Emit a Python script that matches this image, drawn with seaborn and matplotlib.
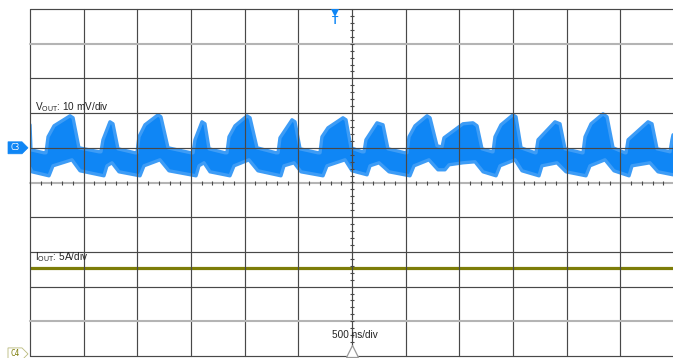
import numpy as np
import pandas as pd
import matplotlib
matplotlib.use("Agg")
import matplotlib.pyplot as plt
from matplotlib.patches import Polygon
import seaborn as sns

# ---------------- data ----------------
# time axis: 500 ns/div, 12 divisions, trigger at 0 us
TIME_DIV_US = 0.5
N_HDIV = 12
N_VDIV = 10

# VOUT (channel C3): 10 mV/div, ground marker at +1 div
VOUT_MV_PER_DIV = 10.0
C3_OFFSET_DIV = 1.0
# upper envelope of the persistence band (time in us, value in mV)
VOUT_UP_T = [-3.000, -2.991, -2.870,
             -2.851, -2.832, -2.776, -2.627, -2.599, -2.544,
             -2.357,
             -2.339, -2.320, -2.255, -2.227, -2.180,
             -2.022,
             -2.003, -1.985, -1.929, -1.807, -1.780, -1.714,
             -1.500,
             -1.481, -1.463, -1.398, -1.370, -1.332,
             -1.183,
             -1.165, -1.146, -1.090, -0.978, -0.950, -0.885,
             -0.708,
             -0.689, -0.671, -0.559, -0.531, -0.484,
             -0.317,
             -0.298, -0.280, -0.224, -0.084, -0.056, -0.009,
             0.093,
             0.112, 0.130, 0.233, 0.289, 0.335,
             0.494,
             0.512, 0.531, 0.587, 0.699, 0.727, 0.792,
             0.829,
             0.839, 0.857, 1.034, 1.127, 1.165, 1.211,
             1.304,
             1.314, 1.332, 1.388, 1.500, 1.528, 1.575,
             1.705,
             1.714, 1.733, 1.891, 1.938, 1.985,
             2.143,
             2.152, 2.171, 2.227, 2.339, 2.376, 2.432,
             2.544,
             2.553, 2.572, 2.758, 2.795, 2.842,
             2.963, 2.981, 2.991]
VOUT_UP_MV = [6.63, -0.58, -1.44,
              -1.44, 3.17, 6.34, 9.22, 8.65, 0.00,
              -1.15,
              -1.15, 2.31, 7.49, 6.92, -0.29,
              -1.44,
              -1.44, 3.17, 6.63, 9.51, 8.93, 0.00,
              -1.44,
              -1.44, 2.31, 7.49, 6.92, -0.29,
              -1.44,
              -1.44, 3.17, 6.34, 9.22, 8.65, 0.00,
              -1.44,
              -1.44, 2.88, 8.07, 7.49, -0.29,
              -1.44,
              -1.44, 3.17, 5.76, 8.65, 8.07, 0.00,
              -1.15,
              -1.15, 2.31, 7.20, 6.63, -0.29,
              -1.44,
              -1.44, 3.17, 6.34, 9.22, 8.65, 0.58,
              0.29,
              0.29, 2.88, 6.92, 7.20, 6.34, -0.29,
              -1.15,
              -1.15, 3.17, 6.63, 9.51, 8.93, 0.00,
              -1.44,
              -1.44, 2.31, 7.49, 6.92, -0.29,
              -1.44,
              -1.44, 3.17, 6.92, 9.80, 8.93, 0.00,
              -1.44,
              -1.44, 2.31, 7.49, 6.92, -0.29,
              -1.15, 2.31, 3.75]
# lower envelope of the persistence band
VOUT_LO_T = [-3.000, -2.981, -2.823, -2.786, -2.609, -2.534, -2.311, -2.283,
             -2.236, -2.171, -1.975, -1.938, -1.789, -1.705, -1.453, -1.426,
             -1.379, -1.323, -1.137, -1.099, -0.960, -0.876, -0.662, -0.634,
             -0.540, -0.475, -0.270, -0.233, -0.065, 0.000, 0.140, 0.168,
             0.252, 0.345, 0.540, 0.578, 0.717, 0.801, 0.866, 0.904,
             1.034, 1.146, 1.221, 1.342, 1.379, 1.519, 1.584, 1.742,
             1.770, 1.910, 1.994, 2.180, 2.217, 2.357, 2.441, 2.581,
             2.609, 2.776, 2.851, 2.991]
VOUT_LO_MV = [-5.76, -6.92,
              -8.07, -5.19, -3.46, -6.63,
              -8.07, -5.19, -4.32, -6.92,
              -8.07, -5.19, -3.46, -6.63,
              -8.07, -5.19, -4.32, -6.92,
              -8.07, -5.19, -3.46, -6.63,
              -8.07, -5.19, -4.32, -6.92,
              -8.07, -5.19, -3.46, -6.63,
              -7.78, -5.19, -4.32, -6.92,
              -8.07, -5.19, -3.46, -6.34,
              -6.34, -4.90, -4.32, -4.03, -6.92,
              -8.07, -5.19, -3.46, -6.63,
              -8.07, -5.19, -4.32, -6.92,
              -8.07, -5.19, -3.46, -6.63,
              -8.07, -5.19, -4.32, -6.92,
              -7.78]

# IOUT (channel C4): 5 A/div, ground marker at -4.94 div, flat DC level
IOUT_A_PER_DIV = 5.0
C4_OFFSET_DIV = -4.94
IOUT_T = [-3.0, 3.0]
IOUT_A = [12.4, 12.4]

TRIG_T_US = -0.158
LABEL_VOUT = r"V$_{\mathrm{OUT}}$: 10 mV/div"
LABEL_IOUT = r"I$_{\mathrm{OUT}}$: 5A/div"
LABEL_TIME = "500 ns/div"

assert len(VOUT_UP_T) == len(VOUT_UP_MV)
assert len(VOUT_LO_T) == len(VOUT_LO_MV)

# ---------------- styling ----------------
sns.set_style("white")
plt.rcParams["font.family"] = ["Liberation Sans", "DejaVu Sans"]
plt.rcParams["mathtext.fontset"] = "custom"
plt.rcParams["mathtext.rm"] = "Liberation Sans"
plt.rcParams["mathtext.it"] = "Liberation Sans"

BLUE = "#0f86f5"
BLUE_EDGE = "#3d9cf6"
OLIVE = "#7d7d08"
DARK = "#484848"
LIGHT = "#b4b4b4"
TXT = "#222222"

W, H = 673, 358
fig = plt.figure(figsize=(W / 100, H / 100), dpi=100)
ax_left, ax_top, ax_right, ax_bot = 30, 9, 674, 356
ax = fig.add_axes([ax_left / W, (H - ax_bot) / H, (ax_right - ax_left) / W, (ax_bot - ax_top) / H])
xmin, xmax = -N_HDIV / 2 * TIME_DIV_US, N_HDIV / 2 * TIME_DIV_US
ymin, ymax = -N_VDIV / 2, N_VDIV / 2
ax.set_xlim(xmin, xmax)
ax.set_ylim(ymin, ymax)
ax.set_axis_off()

px_x = (xmax - xmin) / (ax_right - ax_left)  # data units per pixel
px_y = (ymax - ymin) / (ax_bot - ax_top)

# ---------------- VOUT persistence band ----------------
up_t = np.array(VOUT_UP_T)
up_d = C3_OFFSET_DIV + np.array(VOUT_UP_MV) / VOUT_MV_PER_DIV
lo_t = np.array(VOUT_LO_T)
lo_d = C3_OFFSET_DIV + np.array(VOUT_LO_MV) / VOUT_MV_PER_DIV
ax.fill(np.r_[up_t, lo_t[::-1]], np.r_[up_d, lo_d[::-1]], color=BLUE, lw=0, zorder=2)
df_up = pd.DataFrame({"t": up_t, "v": up_d})
df_lo = pd.DataFrame({"t": lo_t, "v": lo_d})
for df in (df_up, df_lo):
    sns.lineplot(data=df, x="t", y="v", sort=False, estimator=None, color=BLUE_EDGE,
                 lw=2.4, ax=ax, zorder=2, solid_joinstyle="round")

# ---------------- IOUT trace ----------------
df_i = pd.DataFrame({"t": IOUT_T, "v": C4_OFFSET_DIV + np.array(IOUT_A) / IOUT_A_PER_DIV})
sns.lineplot(data=df_i, x="t", y="v", color=OLIVE, lw=2.3, ax=ax, zorder=2)

# ---------------- graticule ----------------
for gx in np.arange(xmin, xmax + 1e-9, TIME_DIV_US):
    ax.axvline(gx, color=DARK, lw=0.85, zorder=3, clip_on=False)
for gy in np.arange(ymin, ymax + 1e-9, 1.0):
    if round(gy) in (4, 0, -4):
        ax.axhline(gy, color=LIGHT, lw=1.5, zorder=3, clip_on=False)
    else:
        ax.axhline(gy, color=DARK, lw=0.85, zorder=3, clip_on=False)
# minor ticks on the centre axes
mx = np.arange(xmin, xmax + 1e-9, TIME_DIV_US / 5)
ax.plot(mx, np.zeros_like(mx), ls="none", marker="|", ms=3.5, mew=0.8, color=DARK, zorder=4)
my = np.arange(ymin, ymax + 1e-9, 0.2)
ax.plot(np.zeros_like(my), my, ls="none", marker="_", ms=3.5, mew=0.8, color=DARK, zorder=4)

# ---------------- annotations ----------------
ax.text(xmin + 5 * px_x, 2.18, LABEL_VOUT, fontsize=7.2, color=TXT, va="center", ha="left", zorder=5)
ax.text(xmin + 5 * px_x, -2.15, LABEL_IOUT, fontsize=7.2, color=TXT, va="center", ha="left", zorder=5)
ax.text(0.03, -4.39, LABEL_TIME, fontsize=7.2, color=TXT, va="center", ha="center", zorder=5)

# trigger marker
ax.plot([TRIG_T_US], [ymax - 4 * px_y], marker="v", ms=6, color=BLUE, mew=0, clip_on=False, zorder=6)
ax.text(TRIG_T_US, ymax - 12 * px_y, "T", fontsize=7.5, color=BLUE, ha="center", va="center",
        fontweight="bold", zorder=6)
# time reference marker at bottom
ax.plot([0], [ymin + 5 * px_y], marker="^", ms=9, mfc="white", mec="#999999", mew=0.9,
        clip_on=False, zorder=6)

# C3 channel marker
cx0 = xmin - 22 * px_x
c3 = Polygon([(cx0, C3_OFFSET_DIV + 6 * px_y), (xmin - 8 * px_x, C3_OFFSET_DIV + 6 * px_y),
              (xmin - 2 * px_x, C3_OFFSET_DIV), (xmin - 8 * px_x, C3_OFFSET_DIV - 6 * px_y),
              (cx0, C3_OFFSET_DIV - 6 * px_y)], closed=True, fc=BLUE, ec=BLUE, lw=0.5,
             clip_on=False, zorder=6)
ax.add_patch(c3)
ax.text(xmin - 15 * px_x, C3_OFFSET_DIV, "C3", fontsize=5.5, color="white", ha="center",
        va="center", zorder=7, family=["DejaVu Sans Mono", "DejaVu Sans"])
# C4 channel marker
c4 = Polygon([(cx0, C4_OFFSET_DIV + 6 * px_y), (xmin - 8 * px_x, C4_OFFSET_DIV + 6 * px_y),
              (xmin - 2 * px_x, C4_OFFSET_DIV), (xmin - 8 * px_x, C4_OFFSET_DIV - 6 * px_y),
              (cx0, C4_OFFSET_DIV - 6 * px_y)], closed=True, fc="white", ec="#b9b97a", lw=0.6,
             clip_on=False, zorder=6)
ax.add_patch(c4)
ax.text(xmin - 15 * px_x, C4_OFFSET_DIV, "C4", fontsize=5.5, color=OLIVE, ha="center",
        va="center", zorder=7, family=["DejaVu Sans Mono", "DejaVu Sans"])

fig.savefig("out.png", dpi=100, facecolor="white")
